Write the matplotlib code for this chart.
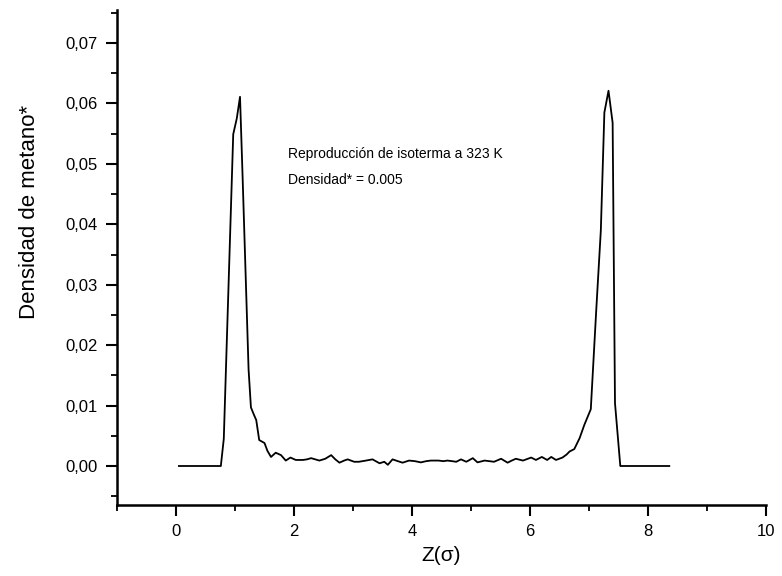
import matplotlib.pyplot as plt
from matplotlib.ticker import MultipleLocator, FuncFormatter

plt.rcParams['font.family'] = ['Liberation Sans', 'DejaVu Sans']

# perfil de densidad
z = [0.05, 0.76, 0.81, 0.97, 1.03, 1.085, 1.13, 1.23, 1.27, 1.32, 1.36, 1.41,
     1.50, 1.55, 1.61, 1.69, 1.78, 1.86, 1.94, 2.03, 2.15, 2.22, 2.29, 2.36,
     2.43, 2.53, 2.63, 2.70, 2.77, 2.85, 2.91, 3.02, 3.10, 3.22, 3.33, 3.45,
     3.53, 3.59, 3.67, 3.76, 3.84, 3.95, 4.05, 4.15, 4.24, 4.32, 4.45, 4.53,
     4.60, 4.68, 4.75, 4.83, 4.92, 5.03, 5.11, 5.23, 5.31, 5.39, 5.51, 5.62,
     5.69, 5.76, 5.88, 6.02, 6.10, 6.20, 6.29, 6.36, 6.44, 6.55, 6.62, 6.67,
     6.75, 6.84, 6.92, 7.03, 7.12, 7.20, 7.26, 7.33, 7.40, 7.44, 7.53, 8.36]
dens = [0.0, 0.0, 0.0045, 0.0549, 0.0575, 0.0611, 0.0475, 0.0160, 0.0097,
        0.0085, 0.0076, 0.0043, 0.0038, 0.0025, 0.0015, 0.0022, 0.0018, 0.0009,
        0.0014, 0.0010, 0.0010, 0.0011, 0.0013, 0.0011, 0.0009, 0.0012, 0.0018,
        0.0011, 0.00055, 0.0009, 0.0011, 0.0007, 0.0007, 0.0009, 0.0011,
        0.00045, 0.0007, 0.0002, 0.0011, 0.0008, 0.00055, 0.0009, 0.0008,
        0.0006, 0.0008, 0.0009, 0.0009, 0.0008, 0.0009, 0.0008, 0.0007, 0.0011,
        0.0007, 0.0013, 0.0006, 0.0009, 0.0008, 0.0007, 0.0012, 0.00055, 0.0009,
        0.0012, 0.0009, 0.0014, 0.0010, 0.0015, 0.0010, 0.0015, 0.0010, 0.0014,
        0.0019, 0.0024, 0.0028, 0.0046, 0.0068, 0.0094, 0.0254, 0.0390, 0.0585,
        0.0621, 0.0568, 0.0104, 0.0, 0.0]

fig = plt.figure(figsize=(7.82, 5.76), dpi=100)
ax = fig.add_axes([0.1496, 0.1233, 0.83, 0.8593])

ax.plot(z, dens, color='black', lw=1.3)

ax.set_xlim(-1, 10)
ax.set_ylim(-0.00645, 0.07546)

ax.spines['top'].set_visible(False)
ax.spines['right'].set_visible(False)
ax.spines['left'].set_linewidth(1.8)
ax.spines['bottom'].set_linewidth(1.8)

ax.xaxis.set_major_locator(MultipleLocator(2))
ax.xaxis.set_minor_locator(MultipleLocator(1))
ax.yaxis.set_major_locator(MultipleLocator(0.01))
ax.yaxis.set_minor_locator(MultipleLocator(0.005))
ax.yaxis.set_major_formatter(FuncFormatter(lambda v, p: f"{v:.2f}".replace('.', ',')))

ax.tick_params(which='major', direction='out', length=8, width=1.5,
               labelsize=12, pad=6)
ax.tick_params(which='minor', direction='out', length=4, width=1.3)

ax.set_xlabel('Z(σ)', fontsize=15, labelpad=5)
ax.set_ylabel('Densidad de metano*', fontsize=16)
ax.yaxis.set_label_coords(-0.118, 0.592)

ax.text(1.9, 0.0516, 'Reproducción de isoterma a 323 K', fontsize=10, va='center')
ax.text(1.9, 0.0473, 'Densidad* = 0.005', fontsize=10, va='center')

fig.savefig('out.png', dpi=100)
